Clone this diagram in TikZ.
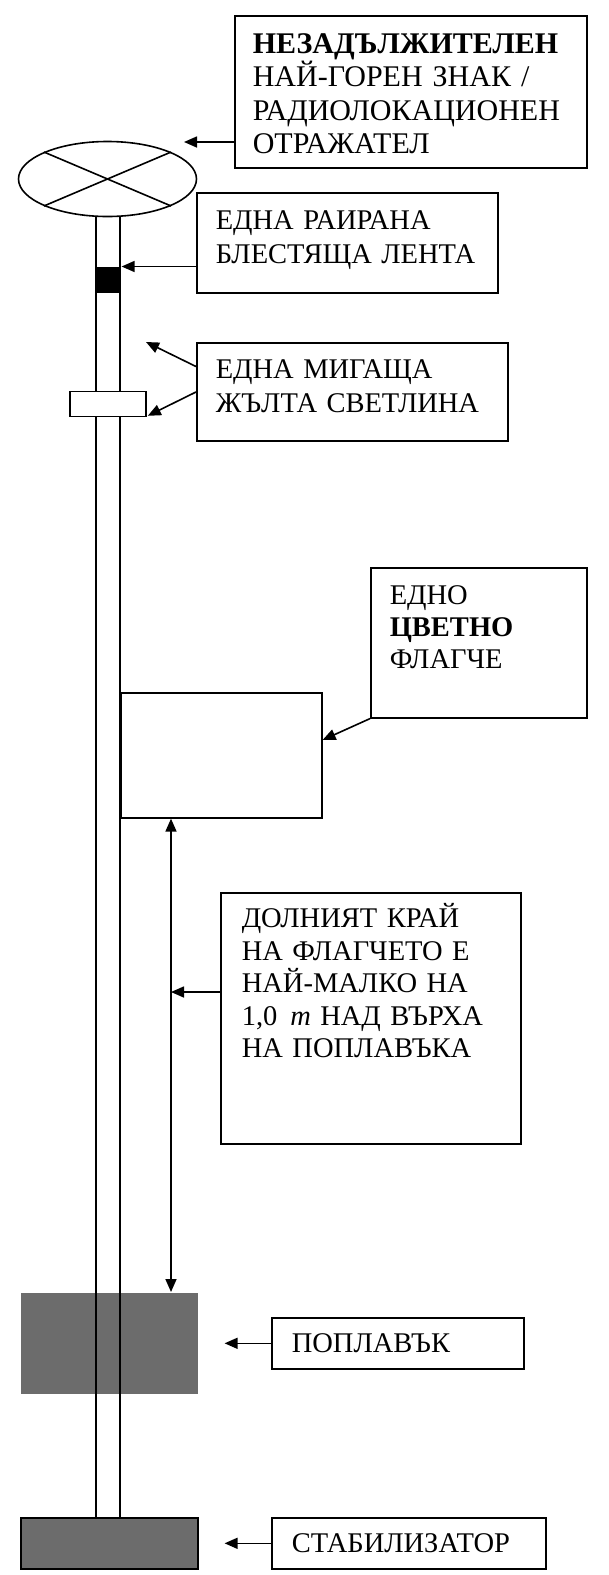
\documentclass[tikz,border=0pt]{standalone}
\usepackage{fontspec}
\setmainfont{Liberation Serif}
\usepackage{tikz}
\usetikzlibrary{positioning,arrows.meta,shapes.geometric}
\definecolor{floatgray}{RGB}{108,108,108}

\begin{document}
\begin{tikzpicture}[x=1pt, y=-1pt, line width=1.6pt,
    >={Triangle[length=13pt,width=11pt]},
    panel/.style={draw, anchor=north west, inner sep=0pt},
    caption/.style={anchor=base west, inner sep=0pt, text width=340pt, align=left,
        font=\fontsize{28.5}{33.5}\selectfont},
    pointer/.style={->}]
    \useasboundingbox (0,0) rectangle (609,1575);
    % Float and stabiliser
    \node[fill=floatgray, anchor=north west, minimum width=177pt, minimum height=101pt, inner sep=0pt] (float) at (20,1292) {};
    \node[draw, fill=floatgray, anchor=north west, minimum width=177pt, minimum height=51pt, inner sep=0pt] (stab) at (20,1517) {};
    % Pole
    \draw (96,217) -- (96,1517) (120,217) -- (120,1517);
    % Top mark
    \node[draw, ellipse, minimum width=178pt, minimum height=75pt, inner sep=0pt] (topmark) at (107.5,179) {};
    \draw (topmark.157) -- (topmark.-23) (topmark.23) -- (topmark.-157);
    % Band, light and flag
    \node[fill=black, anchor=north west, minimum width=24pt, minimum height=26pt, inner sep=0pt] (band) at (96,266.5) {};
    \node[draw, fill=white, minimum width=76pt, minimum height=25pt, inner sep=0pt] (light) at (108,404) {};
    \node[draw, fill=white, anchor=north west, minimum width=201pt, minimum height=125pt, inner sep=0pt] (flag) at (120,692) {};
    % Label panels
    \node[panel, minimum width=352pt, minimum height=152pt] (topbox) at (234,15) {};
    \node[caption, font=\fontsize{30}{33.5}\selectfont] (toptext) at (252,53) {\textbf{НЕЗАДЪЛЖИТЕЛЕН}\\НАЙ-ГОРЕН ЗНАК /\\РАДИОЛОКАЦИОНЕН\\ОТРАЖАТЕЛ};
    \node[panel, minimum width=301pt, minimum height=100pt] (bandbox) at (196,192) {};
    \node[caption] (bandtext) at (215,229.5) {ЕДНА РАИРАНА\\БЛЕСТЯЩА ЛЕНТА};
    \node[panel, minimum width=311pt, minimum height=98pt] (lightbox) at (196,342) {};
    \node[caption] (lighttext) at (215,378.5) {ЕДНА МИГАЩА\\ЖЪЛТА СВЕТЛИНА};
    \node[panel, minimum width=216pt, minimum height=150pt] (flagbox) at (370,567) {};
    \node[caption, font=\fontsize{28.5}{32}\selectfont] (flagtext) at (389,604.5) {ЕДНО\\\textbf{ЦВЕТНО}\\ФЛАГЧЕ};
    \node[panel, minimum width=300pt, minimum height=251pt] (spanbox) at (220,892) {};
    \node[caption, font=\fontsize{28.5}{32.5}\selectfont] (spantext) at (241,927.5) {ДОЛНИЯТ КРАЙ\\НА ФЛАГЧЕТО Е\\НАЙ-МАЛКО НА\\1,0\hspace{0.45em}\textit{m} НАД ВЪРХА\\НА ПОПЛАВЪКА};
    \node[panel, minimum width=252pt, minimum height=51pt] (floatbox) at (271,1317) {};
    \node[caption] (floattext) at (291,1352.5) {ПОПЛАВЪК};
    \node[panel, minimum width=274pt, minimum height=51pt] (stabbox) at (271,1517) {};
    \node[caption] (stabtext) at (291,1552.5) {СТАБИЛИЗАТОР};
    % Arrows
    \coordinate (topmark tip) at (184,142);
    \draw[pointer] (topbox.west |- topmark tip) -- (topmark tip);
    \draw[pointer] (bandbox.west |- band.north east) -- (band.north east);
    \coordinate (glow) at (146,342);
    \draw[pointer] ([yshift=-24.5pt]lightbox.north west) -- (glow);
    \draw[pointer] ([yshift=-50pt]lightbox.north west) -- ([xshift=1pt,yshift=1.5pt]light.south east);
    \draw[pointer] (flagbox.south west) -- ([yshift=-48pt]flag.north east);
    \coordinate (span top) at ([xshift=51pt]flag.south west);
    \draw[<->] (span top) -- (span top |- float.north);
    \draw[pointer] ([yshift=-100pt]spanbox.north west) coordinate (span mid) -- (span mid -| span top);
    \draw[pointer] (floatbox.west) -- ([xshift=26pt]float.east);
    \draw[pointer] (stabbox.west) -- ([xshift=26pt]stab.east);
\end{tikzpicture}
\end{document}
